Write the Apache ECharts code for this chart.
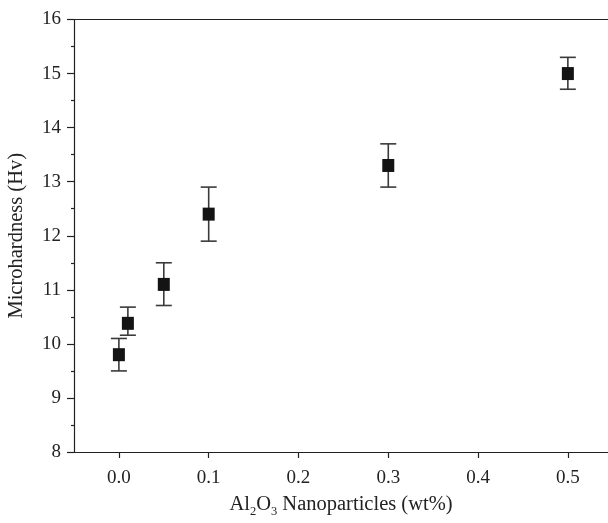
<!DOCTYPE html>
<html>
<head>
<meta charset="utf-8">
<script src="https://cdn.jsdelivr.net/npm/echarts@6/dist/echarts.min.js"></script>
<style>html,body{margin:0;padding:0;background:#fff}#c{width:608px;height:523px}</style>
</head>
<body>
<div id="c"></div>
<script>
const xValues = [0.0, 0.01, 0.05, 0.1, 0.3, 0.5];
const hardness = [9.8, 10.38, 11.1, 12.4, 13.3, 15.0];
const errLow = [9.5, 10.16, 10.71, 11.9, 12.9, 14.71];
const errHigh = [10.1, 10.68, 11.5, 12.9, 13.7, 15.3];
const xTicks = [0.0, 0.1, 0.2, 0.3, 0.4, 0.5];

const FONT = '"Liberation Serif", "DejaVu Serif", serif';
const chart = echarts.init(document.getElementById('c'), null, {renderer: 'canvas'});

const errData = xValues.map((x, i) => [x, errLow[i], errHigh[i]]);
const pts = xValues.map((x, i) => [x, hardness[i]]);

chart.setOption({
  animation: false,
  backgroundColor: '#fff',
  grid: {left: 74, top: 19.5, right: 0, bottom: 71, containLabel: false, outerBoundsMode: 'none'},
  xAxis: [{
    type: 'value', min: -0.05, max: 0.5447,
    name: '{n|Al}{s|2}{n|O}{s|3}{n| Nanoparticles (wt%)}',
    nameLocation: 'middle', nameGap: 39,
    nameTextStyle: {rich: {
      n: {fontFamily: FONT, fontSize: 20.5, color: '#222'},
      s: {fontFamily: FONT, fontSize: 12.5, color: '#222', verticalAlign: 'bottom', padding: [14, 0, 0, 0]}
    }},
    axisLine: {show: true, onZero: false, lineStyle: {color: '#222', width: 1.2}},
    axisTick: {show: true, inside: false, length: 6, customValues: xTicks, lineStyle: {color: '#222', width: 1.2}},
    axisLabel: {customValues: xTicks, formatter: v => v.toFixed(1), fontFamily: FONT, fontSize: 19, color: '#222', margin: 17},
    splitLine: {show: false}
  }, {
    type: 'value', position: 'top', min: -0.05, max: 0.5447,
    axisLine: {show: true, onZero: false, lineStyle: {color: '#222', width: 1.2}},
    axisTick: {show: false}, axisLabel: {show: false}, splitLine: {show: false}
  }],
  yAxis: {
    type: 'value', min: 8, max: 16, interval: 1,
    name: 'Microhardness (Hv)', nameLocation: 'middle', nameGap: 47, nameRotate: 90,
    nameTextStyle: {fontFamily: FONT, fontSize: 20.5, color: '#222'},
    axisLine: {show: true, onZero: false, lineStyle: {color: '#222', width: 1.2}},
    axisTick: {show: true, inside: false, length: 7, lineStyle: {color: '#222', width: 1.2}},
    minorTick: {show: true, splitNumber: 2, length: 3, lineStyle: {color: '#222', width: 1.2}},
    axisLabel: {fontFamily: FONT, fontSize: 19, color: '#222', margin: 13},
    splitLine: {show: false}
  },
  series: [{
    type: 'custom',
    data: errData,
    z: 2,
    renderItem: function (params, api) {
      const x = api.value(0);
      const lo = api.coord([x, api.value(1)]);
      const hi = api.coord([x, api.value(2)]);
      const hw = 8;
      const st = {stroke: '#3a3a3a', lineWidth: 1.6};
      return {type: 'group', children: [
        {type: 'line', shape: {x1: lo[0], y1: lo[1], x2: hi[0], y2: hi[1]}, style: st},
        {type: 'line', shape: {x1: lo[0] - hw, y1: lo[1], x2: lo[0] + hw, y2: lo[1]}, style: st},
        {type: 'line', shape: {x1: hi[0] - hw, y1: hi[1], x2: hi[0] + hw, y2: hi[1]}, style: st}
      ]};
    }
  }, {
    type: 'scatter',
    data: pts,
    symbol: 'rect',
    symbolSize: [12, 13],
    z: 3,
    itemStyle: {color: '#141414', opacity: 1}
  }]
});
</script>
</body>
</html>
